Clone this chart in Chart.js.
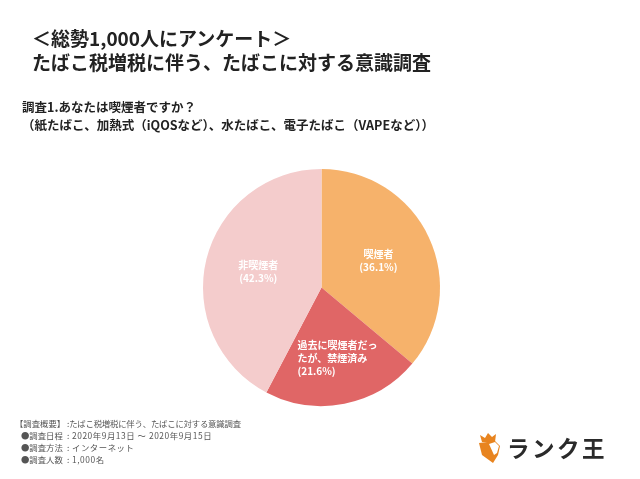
<!DOCTYPE html>
<html lang="ja">
<head>
<meta charset="utf-8">
<script src="https://cdn.jsdelivr.net/npm/chart.js@4"></script>
<style>
  html, body { margin: 0; padding: 0; background: #fff; }
  #page { position: relative; width: 640px; height: 479px; overflow: hidden;
    font-family: "Noto Sans CJK JP", sans-serif; color: #222; }
  #chart { position: absolute; left: 0; top: 0; }
  .txt { position: absolute; white-space: nowrap; line-height: 1; }
  .title { font-size: 19px; font-weight: 700; left: 32px; }
  .sub { font-size: 12.5px; font-weight: 700; left: 22px; }
  .note { font-size: 8.4px; color: #555; }
  .val { left: 72px; letter-spacing: 0.55px; }
  #logoText { left: 507px; top: 436px; font-size: 22.5px; font-weight: 700; color: #2a2a2a; letter-spacing: 2.5px; }
  #logoIcon { position: absolute; left: 478px; top: 432px; }
</style>
</head>
<body>
<div id="page">
  <canvas id="chart" width="640" height="479"></canvas>

  <div class="txt title" style="top:28px">＜総勢1,000人にアンケート＞</div>
  <div class="txt title" style="top:52px">たばこ税増税に伴う、たばこに対する意識調査</div>
  <div class="txt sub" style="top:101px">調査1.あなたは喫煙者ですか？</div>
  <div class="txt sub" style="top:119px">（紙たばこ、加熱式（iQOSなど）、水たばこ、電子たばこ（VAPEなど））</div>

  <div class="txt note" style="left:15px;top:419px">【調査概要】</div>
  <div class="txt note" style="left:67px;top:419px;letter-spacing:-0.2px">:たばこ税増税に伴う、たばこに対する意識調査</div>
  <div class="txt note" style="left:21px;top:431px">●調査日程</div>
  <div class="txt note" style="left:67px;top:431px">:</div>
  <div class="txt note val" style="top:431px">2020年9月13日 ～ 2020年9月15日</div>
  <div class="txt note" style="left:21px;top:443px">●調査方法</div>
  <div class="txt note" style="left:67px;top:443px">:</div>
  <div class="txt note val" style="top:443px">インターネット</div>
  <div class="txt note" style="left:21px;top:455px">●調査人数</div>
  <div class="txt note" style="left:67px;top:455px">:</div>
  <div class="txt note val" style="top:455px">1,000名</div>

  <svg id="logoIcon" width="24" height="32" viewBox="0 0 24 32">
    <path d="M2 3 L7 6 L10 1 L14 5 L18 2 L17 10 L4 10 Z" fill="#e8841f"/>
    <path d="M1 11 L17 9 L22 14 L20 23 L15 31 L4 23 Z" fill="#e8841f"/>
    <path d="M11 12 L17 10 L21 14 L19 21 L16 23 Z" fill="#fff"/>
  </svg>
  <div class="txt" id="logoText">ランク王</div>
</div>

<script>
const categories = ["喫煙者", "過去に喫煙者だったが、禁煙済み", "非喫煙者"];
const values = [36.1, 21.6, 42.3];
const colors = ["#f6b26b", "#e06666", "#f4cccc"];

// wrapped the way the original labels wrap
const sliceLabels = [
  ["喫煙者", "(36.1%)"],
  ["過去に喫煙者だっ", "たが、禁煙済み", "(21.6%)"],
  ["非喫煙者", "(42.3%)"],
];

// white labels inside the slices
const sliceLabelPlugin = {
  id: "sliceLabels",
  afterDatasetsDraw(chart) {
    const ctx = chart.ctx;
    const arcs = chart.getDatasetMeta(0).data;
    const ratios = [0.53, 0.61, 0.55];
    ctx.save();
    ctx.fillStyle = "#fff";
    ctx.font = '700 10px "Noto Sans CJK JP", sans-serif';
    ctx.textBaseline = "middle";
    arcs.forEach((arc, i) => {
      const p = arc.getProps(["x", "y", "startAngle", "endAngle", "outerRadius"]);
      const mid = (p.startAngle + p.endAngle) / 2;
      const cx = p.x + Math.cos(mid) * p.outerRadius * ratios[i];
      const cy = p.y + Math.sin(mid) * p.outerRadius * ratios[i];
      const lines = sliceLabels[i];
      const lineH = 13;
      const width = Math.max(...lines.map((l) => ctx.measureText(l).width));
      // the long label is left aligned, the short ones centred
      ctx.textAlign = lines.length > 2 ? "left" : "center";
      const x = lines.length > 2 ? cx - width / 2 + 2 : cx;
      lines.forEach((l, n) => {
        ctx.fillText(l, x, cy + (n - (lines.length - 1) / 2) * lineH);
      });
    });
    ctx.restore();
  },
};

new Chart(document.getElementById("chart").getContext("2d"), {
  type: "pie",
  data: {
    labels: categories,
    datasets: [{ data: values, backgroundColor: colors, borderWidth: 0 }],
  },
  options: {
    responsive: false,
    animation: false,
    layout: { padding: { left: 203, right: 200, top: 169, bottom: 73 } },
    plugins: {
      legend: { display: false },
      tooltip: { enabled: false },
    },
  },
  plugins: [sliceLabelPlugin],
});
</script>
</body>
</html>
